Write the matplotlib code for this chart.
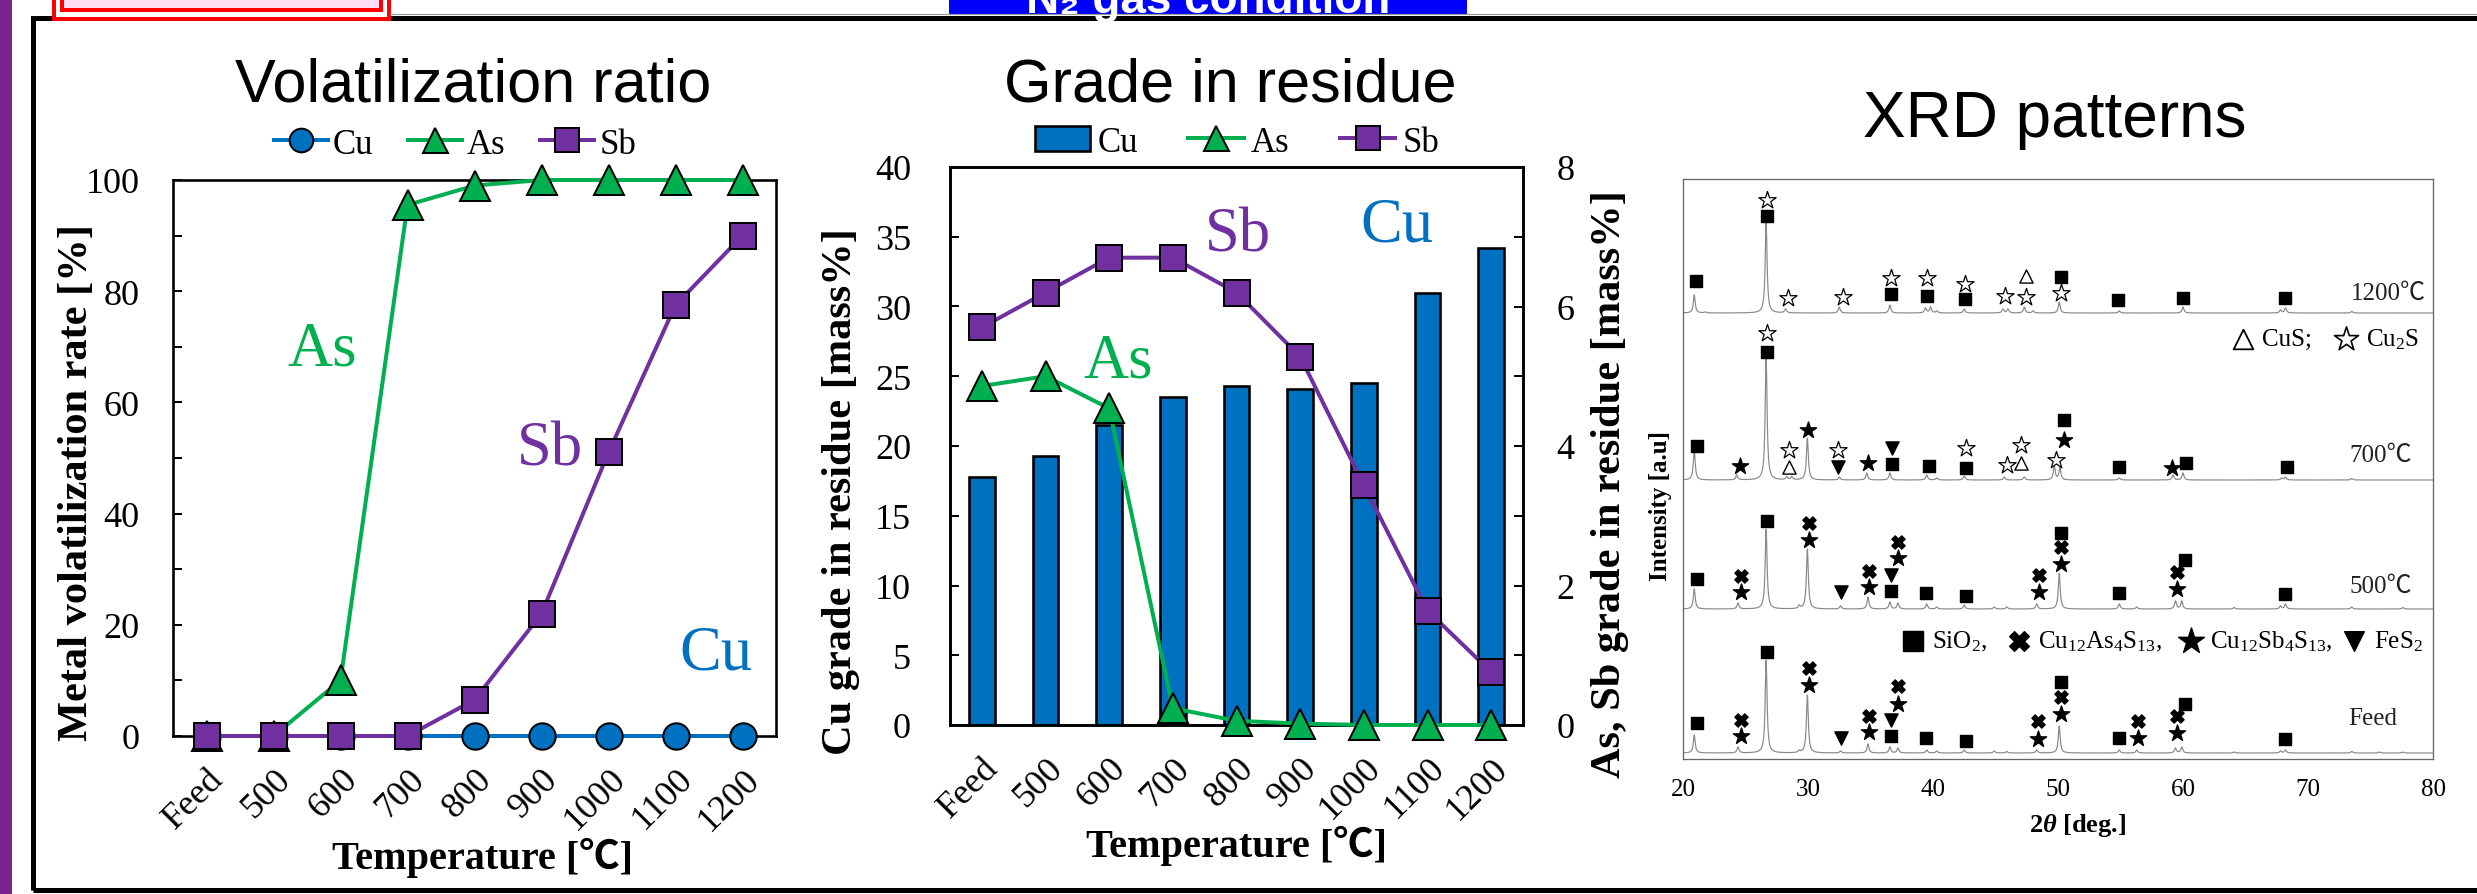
import numpy as np
import matplotlib
matplotlib.use('Agg')
import matplotlib.pyplot as plt
from matplotlib.lines import Line2D
from matplotlib.patches import Patch, Rectangle
from matplotlib.transforms import ScaledTranslation

plt.rcParams['mathtext.fontset'] = 'custom'
plt.rcParams['mathtext.rm'] = 'Liberation Serif'
plt.rcParams['mathtext.it'] = 'Liberation Serif:italic:bold'
plt.rcParams['mathtext.bf'] = 'Liberation Serif:bold'
SERIF = ['Liberation Serif', 'Noto Sans CJK JP', 'DejaVu Sans']
SANS = ['Liberation Sans', 'DejaVu Sans']
plt.rcParams['font.family'] = SERIF

# ---------------- data ----------------
temps = ['Feed', '500', '600', '700', '800', '900', '1000', '1100', '1200']
vol_cu = [0, 0, 0, 0, 0, 0, 0, 0, 0]
vol_as = [0, 0, 10, 95.5, 99, 100, 100, 100, 100]
vol_sb = [0, 0, 0, 0, 6.5, 22, 51, 77.5, 90]
grade_cu = [17.8, 19.3, 21.5, 23.5, 24.3, 24.1, 24.5, 31.0, 34.2]
grade_as = [4.86, 5.0, 4.54, 0.24, 0.06, 0.02, 0.0, 0.0, 0.0]
grade_sb = [5.7, 6.2, 6.7, 6.7, 6.2, 5.28, 3.44, 1.64, 0.76]

# XRD patterns: peak positions [deg] and heights [px above each baseline]
xrd_labels = ['Feed', '500℃', '700℃', '1200℃']
xrd_offsets = [6, 150, 279, 446]
feed_pk_x = [20.9, 24.4, 26.65, 29.3, 29.95, 32.6, 34.8, 36.55, 37.2, 39.5, 40.3, 42.5, 44.9, 45.9,
             48.3, 50.1, 54.9, 56.3, 59.4, 59.9, 64.1, 67.8, 68.2, 73.5, 75.7, 77.6]
feed_pk_h = [18, 6, 93, 2, 58, 2, 9, 6, 5, 3, 2, 3, 2, 1.5, 3, 27, 3, 3, 5, 6, 1, 2, 3, 1.5, 1, 1]
p500_pk_x = [20.9, 24.4, 26.65, 29.3, 29.95, 32.6, 34.8, 36.55, 37.2, 39.5, 40.3, 42.5, 44.9, 45.9,
             48.3, 50.1, 54.9, 56.3, 59.4, 59.9, 64.1, 67.8, 68.2, 73.5, 77.6]
p500_pk_h = [20, 6, 80, 3, 60, 3, 12, 7, 6, 5, 2, 4, 2, 2, 5, 36, 5, 2, 8, 8, 1.5, 3, 5, 2, 1.5]
p700_pk_x = [20.9, 24.3, 26.65, 28.3, 28.7, 29.95, 32.5, 34.7, 36.55, 39.5, 40.3, 42.5, 45.7, 47.3,
             49.7, 50.15, 54.9, 59.2, 60.0, 67.9, 68.2, 73.5]
p700_pk_h = [30, 5, 123, 3, 3, 42, 3, 7, 7, 5, 2, 4, 3, 3, 14, 12, 2, 5, 7, 2, 3, 1.5]
p1200_pk_x = [20.9, 21.8, 26.65, 28.2, 32.5, 36.55, 39.4, 39.8, 40.3, 42.5, 45.6, 46.0, 47.3, 48.0,
              50.1, 54.9, 60.0, 67.8, 68.2, 73.5]
p1200_pk_h = [18, 1, 90, 4, 6, 8, 5, 6, 2, 4, 4, 4, 6, 2, 11, 2, 6, 3, 5, 1.5]

# phase markers: (x positions, heights above baseline)
feed_sio2 = ([21.1, 26.75, 36.6, 39.47, 42.6, 50.24, 54.84, 60.16, 68.14], [30, 101, 17, 15, 12, 71, 15, 49, 14])
feed_tenn = ([24.65, 30.05, 34.9, 37.23, 48.4, 50.24, 56.36, 59.5], [33, 85, 37, 67, 32, 56, 32, 37])
feed_tetr = ([24.65, 30.05, 34.9, 37.23, 48.4, 50.24, 56.36, 59.5], [17, 68, 21, 49, 14, 39, 15, 20])
feed_fes2 = ([32.67, 36.6], [15, 33])
p500_sio2 = ([21.1, 26.75, 36.6, 39.47, 42.6, 50.24, 54.84, 60.16, 68.14], [30, 88, 18, 16, 13, 76, 16, 49, 15])
p500_tenn = ([24.65, 30.05, 34.9, 37.23, 48.5, 50.24, 59.5], [33, 86, 38, 67, 34, 62, 37])
p500_tetr = ([24.65, 30.05, 34.9, 37.23, 48.5, 50.24, 59.5], [17, 69, 22, 51, 17, 45, 20])
p500_fes2 = ([32.67, 36.6], [17, 34])
p700_sio2 = ([21.1, 26.75, 36.72, 39.68, 42.64, 50.45, 54.9, 60.2, 68.3], [34, 128, 16, 14, 12, 60, 13, 17, 13])
p700_tetr = ([24.56, 29.97, 34.78, 50.45, 59.1], [14, 50, 17, 40, 12])
p700_fes2 = ([32.37, 36.72], [13, 32])
p700_cus = ([28.45, 47.07], [13, 17])
p700_cu2s = ([26.75, 28.45, 32.37, 42.64, 45.89, 47.07, 49.8], [147, 30, 30, 32, 15, 35, 20])
p1200_sio2 = ([21.0, 26.75, 36.6, 39.55, 42.55, 50.24, 54.8, 60.03, 68.14], [32, 97, 19, 17, 14, 36, 13, 15, 15])
p1200_cu2s = ([26.75, 28.4, 32.8, 36.6, 39.55, 42.55, 45.76, 47.4, 50.24], [113, 15, 16, 35, 35, 29, 17, 16, 20])
p1200_cus = ([47.4], [37])

# ---------------- figure ----------------
W, H = 2477, 895
PX = 0.72  # points per pixel at dpi 100
fig = plt.figure(figsize=(W / 100, H / 100), dpi=100)
fig.patch.set_facecolor('white')


def frect(l, t, r, b):
    return [l / W, 1 - b / H, (r - l) / W, (b - t) / H]


def figbox(l, t, r, b, **kw):
    fig.add_artist(Rectangle((l / W, 1 - b / H), (r - l) / W, (b - t) / H,
                             transform=fig.transFigure, clip_on=False, **kw))


def ftext(x, y, s, **kw):
    fig.text(x / W, 1 - y / H, s, **kw)


C_CU, C_AS, C_SB = '#0070C0', '#00B050', '#7030A0'

# decorations
figbox(0, -5, 12, 900, facecolor='#7B2390', edgecolor='none')
fig.add_artist(Line2D([390 / W, 1], [1 - 15 / H] * 2, transform=fig.transFigure, color='#9a9a9a', lw=1.2 * PX))
figbox(949, -5, 1467, 15.7, facecolor='#0000FF', edgecolor='none')
ftext(1208, 13, 'N₂ gas condition', color='white', fontsize=33, fontweight='bold', family=SANS,
      ha='center', va='baseline')
figbox(32.5, 18.5, 2600, 891, facecolor='none', edgecolor='black', lw=5 * PX)
figbox(54, -10, 389, 20, facecolor='white', edgecolor='red', lw=4 * PX)
figbox(62, -10, 381, 11, facecolor='#FFDDF5', edgecolor='red', lw=4 * PX)

x = np.arange(len(temps))
mk = dict(mec='black', mew=2 * PX, clip_on=False)


def spines(ax, lw=2.6, color='black'):
    for s in ax.spines.values():
        s.set_linewidth(lw * PX)
        s.set_color(color)


def shift_xlabels(ax, dx):
    for tk in ax.xaxis.get_major_ticks():
        tk.label1.set_transform(tk.label1.get_transform() + ScaledTranslation(dx / 100, 0, fig.dpi_scale_trans))


# ---------- panel 1: volatilization ----------
ax1 = fig.add_axes(frect(173, 181, 776, 737))
ax1.plot(x, vol_cu, color=C_CU, lw=4 * PX, marker='o', ms=19, mfc=C_CU, zorder=3, **mk)
ax1.plot(x, vol_as, color=C_AS, lw=4 * PX, marker='^', ms=21, mfc=C_AS, zorder=4, **mk)
ax1.plot(x, vol_sb, color=C_SB, lw=4 * PX, marker='s', ms=19, mfc=C_SB, zorder=5, **mk)
ax1.set_xlim(-0.5, 8.5)
ax1.set_ylim(0, 100)
ax1.set_yticks(range(0, 101, 20))
ax1.set_yticks(range(10, 100, 20), minor=True)
ax1.set_xticks(x)
ax1.set_xticklabels(temps, rotation=45, ha='right', va='center', rotation_mode='anchor')
ax1.tick_params(axis='y', which='both', direction='in', length=9 * PX, width=2 * PX, labelsize=26, pad=24)
ax1.tick_params(axis='x', length=0, labelsize=26, pad=27)
spines(ax1)
ftext(473, 102, 'Volatilization ratio', fontsize=44, family=SANS, ha='center', va='baseline')
ftext(77, 483, 'Metal volatilization rate [%]', fontsize=30.5, fontweight='bold', rotation=90,
      ha='center', va='center')
ftext(482, 858, 'Temperature [℃]', fontsize=29, fontweight='bold', ha='center', va='center')
ftext(322, 366, 'As', fontsize=45, color=C_AS, ha='center', va='baseline')
ftext(550, 466, 'Sb', fontsize=45, color=C_SB, ha='center', va='baseline')
ftext(716, 670, 'Cu', fontsize=45, color=C_CU, ha='center', va='baseline')
h1 = [Line2D([], [], color=C_CU, lw=4 * PX, marker='o', ms=17, mfc=C_CU, mec='black', mew=2 * PX),
      Line2D([], [], color=C_AS, lw=4 * PX, marker='^', ms=18, mfc=C_AS, mec='black', mew=2 * PX),
      Line2D([], [], color=C_SB, lw=4 * PX, marker='s', ms=17, mfc=C_SB, mec='black', mew=2 * PX)]
fig.legend(h1, ['Cu', 'As', 'Sb'], loc='center', bbox_to_anchor=(455 / W, 1 - 145 / H), ncol=3,
           frameon=False, fontsize=25, handlelength=1.55, handletextpad=0.15, columnspacing=1.0,
           borderpad=0, borderaxespad=0)

# ---------- panel 2: grade ----------
ax2 = fig.add_axes(frect(950, 168, 1523, 726))
ax2.bar(x, grade_cu, width=0.4, color=C_CU, edgecolor='black', linewidth=2.6 * PX, zorder=2)
ax2.set_xlim(-0.5, 8.5)
ax2.set_ylim(0, 40)
ax2.set_yticks(range(0, 41, 5))
ax2.set_xticks(x)
ax2.set_xticklabels(temps, rotation=45, ha='right', va='center', rotation_mode='anchor')
ax2.tick_params(axis='y', which='both', direction='in', length=9 * PX, width=2 * PX, labelsize=26, pad=28)
ax2.tick_params(axis='x', length=0, labelsize=26, pad=27)
ax2r = ax2.twinx()
ax2r.plot(x, grade_as, color=C_AS, lw=4 * PX, marker='^', ms=21, mfc=C_AS, zorder=4, **mk)
ax2r.plot(x, grade_sb, color=C_SB, lw=4 * PX, marker='s', ms=19, mfc=C_SB, zorder=5, **mk)
ax2r.set_ylim(0, 8)
ax2r.set_yticks(range(0, 9, 2))
ax2r.set_yticks(range(1, 9, 2), minor=True)
ax2r.tick_params(axis='y', which='both', direction='in', length=9 * PX, width=2 * PX, labelsize=26, pad=24)
spines(ax2)
spines(ax2r)
ftext(1230, 102, 'Grade in residue', fontsize=44, family=SANS, ha='center', va='baseline')
ftext(841, 492, 'Cu grade in residue [mass%]', fontsize=30.5, fontweight='bold', rotation=90,
      ha='center', va='center')
ftext(1610, 484, 'As, Sb grade in residue [mass%]', fontsize=30.5, fontweight='bold', rotation=90,
      ha='center', va='center')
ftext(1237, 846, 'Temperature [℃]', fontsize=29, fontweight='bold', ha='center', va='center')
ftext(1238, 252, 'Sb', fontsize=45, color=C_SB, ha='center', va='baseline')
ftext(1397, 242, 'Cu', fontsize=45, color=C_CU, ha='center', va='baseline')
ftext(1118, 377, 'As', fontsize=45, color=C_AS, ha='center', va='baseline')
h2 = [Patch(facecolor=C_CU, edgecolor='black', linewidth=2.6 * PX),
      Line2D([], [], color=C_AS, lw=4 * PX, marker='^', ms=18, mfc=C_AS, mec='black', mew=2 * PX),
      Line2D([], [], color=C_SB, lw=4 * PX, marker='s', ms=17, mfc=C_SB, mec='black', mew=2 * PX)]
fig.legend(h2, ['Cu', 'As', 'Sb'], loc='center', bbox_to_anchor=(1237 / W, 1 - 143 / H), ncol=3,
           frameon=False, fontsize=25, handlelength=1.6, handletextpad=0.2, columnspacing=1.45,
           borderpad=0, borderaxespad=0)

# ---------- panel 3: XRD ----------
ax3 = fig.add_axes(frect(1683, 180, 2433, 760))
ax3.set_xlim(20, 80)
ax3.set_ylim(0, 580)
ax3.set_yticks([])
ax3.set_xticks(range(20, 81, 10))
ax3.tick_params(axis='x', length=0, labelsize=18, pad=14)
spines(ax3, lw=1.3, color='#666666')
tt = np.linspace(20, 80, 4001)
pk_sets = [(feed_pk_x, feed_pk_h), (p500_pk_x, p500_pk_h), (p700_pk_x, p700_pk_h), (p1200_pk_x, p1200_pk_h)]
for (px_, ph_), off in zip(pk_sets, xrd_offsets):
    prof = np.zeros_like(tt)
    for p, hgt in zip(px_, ph_):
        prof += hgt / (1 + ((tt - p) / 0.09) ** 2)
    ax3.plot(tt, off + prof, color='#8a8a8a', lw=1.2 * PX)


def phase(ax, data, off, kind):
    xs, hs = data
    ys = [off + v for v in hs]
    if kind == 'sio2':
        ax.scatter(xs, ys, marker='s', s=80, color='black', zorder=5, clip_on=False)
    elif kind == 'tenn':
        ax.scatter(xs, ys, marker='X', s=90, color='black', zorder=5, clip_on=False)
    elif kind == 'tetr':
        ax.scatter(xs, ys, marker='*', s=150, color='black', zorder=5, clip_on=False)
    elif kind == 'fes2':
        ax.scatter(xs, ys, marker='v', s=90, color='black', zorder=5, clip_on=False)
    elif kind == 'cus':
        ax.scatter(xs, ys, marker='^', s=90, facecolors='white', edgecolors='black', linewidths=1.0, zorder=5,
                   clip_on=False)
    elif kind == 'cu2s':
        ax.scatter(xs, ys, marker='*', s=170, facecolors='white', edgecolors='black', linewidths=0.9, zorder=5,
                   clip_on=False)


o_feed, o_500, o_700, o_1200 = xrd_offsets
for d, k in [(feed_sio2, 'sio2'), (feed_tenn, 'tenn'), (feed_tetr, 'tetr'), (feed_fes2, 'fes2')]:
    phase(ax3, d, o_feed, k)
for d, k in [(p500_sio2, 'sio2'), (p500_tenn, 'tenn'), (p500_tetr, 'tetr'), (p500_fes2, 'fes2')]:
    phase(ax3, d, o_500, k)
for d, k in [(p700_sio2, 'sio2'), (p700_tetr, 'tetr'), (p700_fes2, 'fes2'), (p700_cus, 'cus'), (p700_cu2s, 'cu2s')]:
    phase(ax3, d, o_700, k)
for d, k in [(p1200_sio2, 'sio2'), (p1200_cu2s, 'cu2s'), (p1200_cus, 'cus')]:
    phase(ax3, d, o_1200, k)

lab_pos = [(77.1, 35), (78.3, 23), (78.3, 25), (79.4, 20)]
for lab, off, (lx, ly) in zip(xrd_labels, xrd_offsets, lab_pos):
    ax3.text(lx, off + ly, lab, fontsize=18, ha='right', va='center', color='#222222')

# phase legend rows
ax3.scatter([64.8], [420], marker='^', s=200, facecolors='white', edgecolors='black', linewidths=1.3)
ax3.text(66.3, 420, 'CuS;', fontsize=18, ha='left', va='center')
ax3.scatter([73.0], [420], marker='*', s=330, facecolors='white', edgecolors='black', linewidths=1.2)
ax3.text(74.6, 420, 'Cu$_2$S', fontsize=18, ha='left', va='center')
ax3.scatter([38.4], [118], marker='s', s=200, color='black')
ax3.text(39.9, 118, 'SiO$_2$,', fontsize=18, ha='left', va='center')
ax3.scatter([46.9], [118], marker='X', s=200, color='black')
ax3.text(48.4, 118, 'Cu$_{12}$As$_4$S$_{13}$,', fontsize=18, ha='left', va='center')
ax3.scatter([60.6], [118], marker='*', s=380, color='black')
ax3.text(62.2, 118, 'Cu$_{12}$Sb$_4$S$_{13}$,', fontsize=18, ha='left', va='center')
ax3.scatter([73.7], [118], marker='v', s=200, color='black')
ax3.text(75.3, 118, 'FeS$_2$', fontsize=18, ha='left', va='center')

ftext(2055, 137, 'XRD patterns', fontsize=46, family=SANS, ha='center', va='baseline')
ftext(1661, 506, 'Intensity [a.u]', fontsize=18, fontweight='bold', rotation=90, ha='center', va='center')
ftext(2078, 826, '2$\\theta$ [deg.]', fontsize=19, fontweight='bold', ha='center', va='center')

shift_xlabels(ax1, 12)
shift_xlabels(ax2, 12)

fig.savefig('out.png', dpi=100)
